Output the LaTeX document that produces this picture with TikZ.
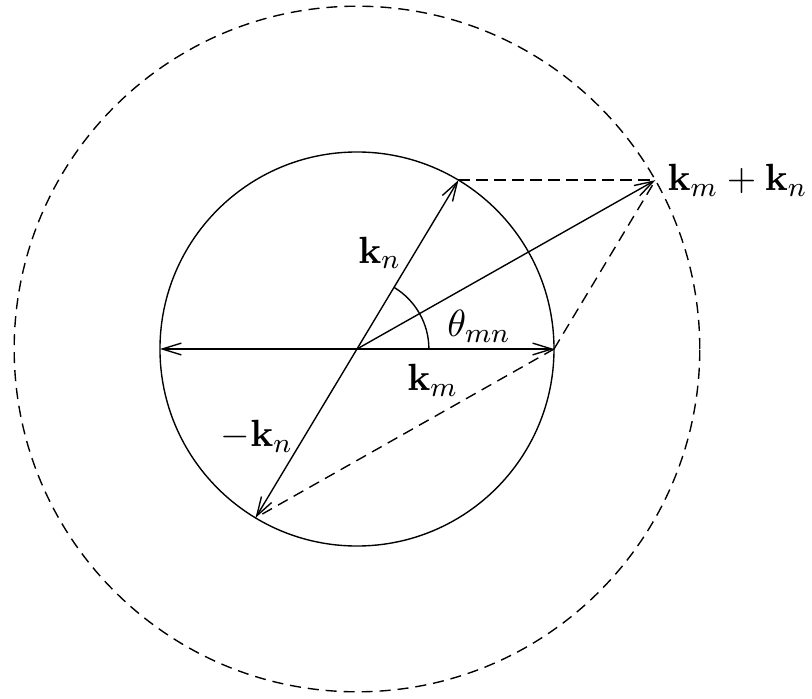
\documentclass[tikz,border=0pt]{standalone}
\usepackage{amsmath}
\usepackage{tikz}
\usetikzlibrary{arrows.meta,calc,positioning}
\tikzset{
  vec/.style = {-{Straight Barb[length=5.5pt,width=3.4pt]}},
  aux/.style = {dash pattern=on 3.2pt off 2pt}
}

\begin{document}
\begin{tikzpicture}[font=\fontsize{11.3}{13.6}\selectfont]
            \useasboundingbox (-3.624,-3.543) rectangle (4.619,3.543);
            \coordinate (O) at (0,0);
            \coordinate (km) at (0:2);
            \coordinate (mkm) at (180:2);
            \coordinate (kn) at (59:2);
            \coordinate (mkn) at (239:2);
            \coordinate (sum) at ($(km)+(kn)$);
            \draw (O) circle (2);
            \draw[aux] (O) circle (3.48);
            \draw[vec] (O) -- (km);
            \draw[vec] (O) -- (mkm);
            \draw[vec] (O) -- (kn);
            \draw[vec] (O) -- (mkn);
            \draw[vec] (O) -- (sum);
            \draw (0.73,0) arc (0:59:0.73);
            \draw[aux] (kn) -- (sum);
            \draw[aux] (km) -- (sum);
            \draw[aux] (km) -- (mkn);
            \node (lkn) at (0.23,0.975) {$\mathbf{k}_n$};
            \node (ltheta) at (1.24,0.23) {$\theta_{mn}$};
            \node (lkm) at (0.77,-0.315) {$\mathbf{k}_m$};
            \node (lmkn) at (-1.015,-0.89) {$-\mathbf{k}_n$};
            \node[right=0pt of sum] (lsum) {$\mathbf{k}_m+\mathbf{k}_n$};
        \end{tikzpicture}
\end{document}
